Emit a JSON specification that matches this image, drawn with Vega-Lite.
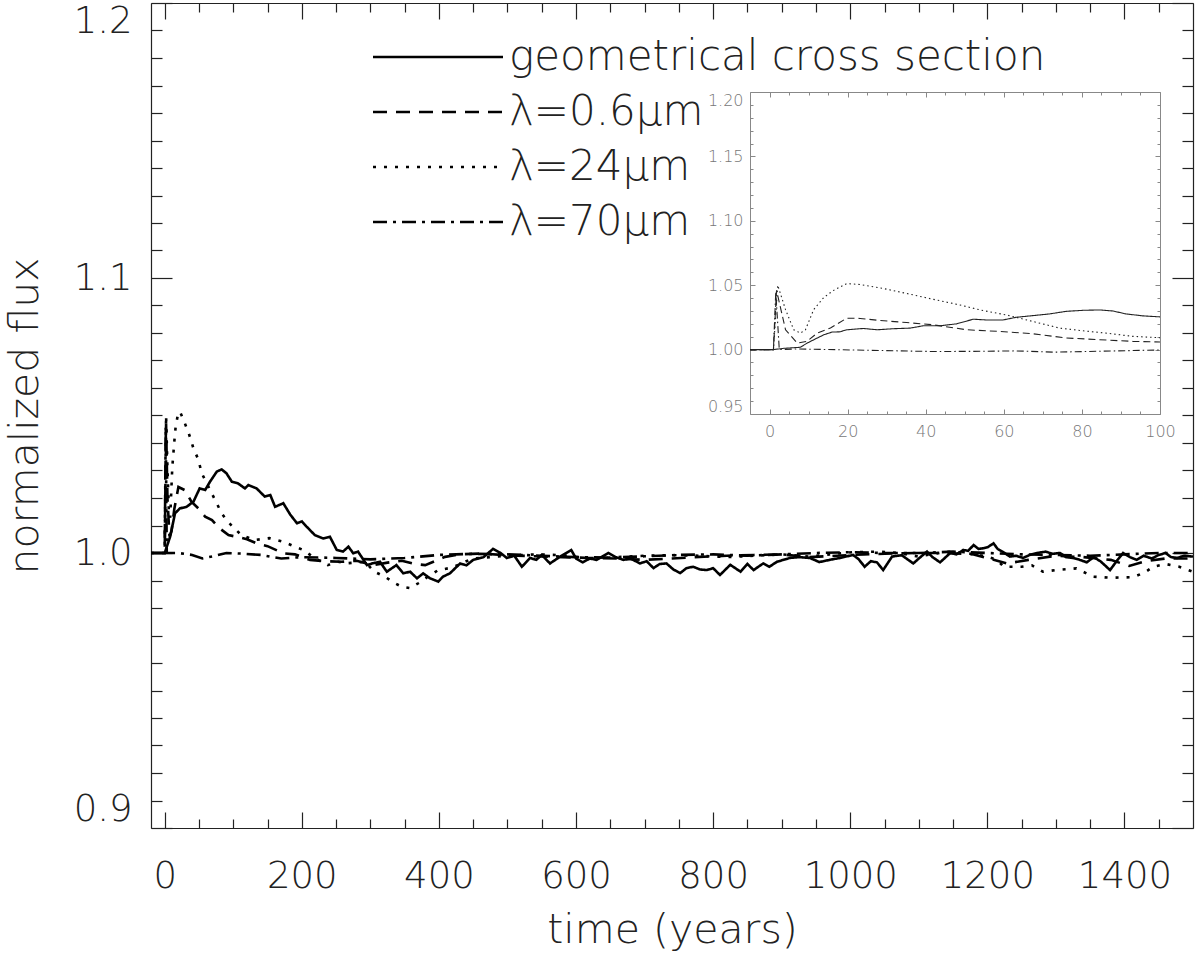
{
  "$schema": "https://vega.github.io/schema/vega-lite/v6.json",
  "width": 1042,
  "height": 825,
  "autosize": "none",
  "padding": {"left": 151, "top": 3, "right": 7, "bottom": 125},
  "background": "white",
  "config": {
    "view": {"stroke": null},
    "font": "DejaVu Sans",
    "axis": {"grid": false, "labelOverlap": false, "labelBound": false, "labelFont": "DejaVu Sans", "titleFont": "DejaVu Sans"},
    "legend": {"labelFont": "DejaVu Sans"}
  },
  "datasets": {
    "main": [
      {"s": "geometrical cross section", "t": -20, "f": 1.0},
      {"s": "geometrical cross section", "t": 0, "f": 1.0},
      {"s": "geometrical cross section", "t": 8, "f": 1.006},
      {"s": "geometrical cross section", "t": 15, "f": 1.0144},
      {"s": "geometrical cross section", "t": 22, "f": 1.0162},
      {"s": "geometrical cross section", "t": 32, "f": 1.0168},
      {"s": "geometrical cross section", "t": 42, "f": 1.0187},
      {"s": "geometrical cross section", "t": 51, "f": 1.0235},
      {"s": "geometrical cross section", "t": 59, "f": 1.0229},
      {"s": "geometrical cross section", "t": 66, "f": 1.0259},
      {"s": "geometrical cross section", "t": 76, "f": 1.0296},
      {"s": "geometrical cross section", "t": 83, "f": 1.0304},
      {"s": "geometrical cross section", "t": 90, "f": 1.029},
      {"s": "geometrical cross section", "t": 98, "f": 1.0259},
      {"s": "geometrical cross section", "t": 107, "f": 1.0253},
      {"s": "geometrical cross section", "t": 117, "f": 1.0235},
      {"s": "geometrical cross section", "t": 122, "f": 1.0247},
      {"s": "geometrical cross section", "t": 134, "f": 1.0235},
      {"s": "geometrical cross section", "t": 146, "f": 1.0205},
      {"s": "geometrical cross section", "t": 154, "f": 1.0211},
      {"s": "geometrical cross section", "t": 161, "f": 1.0168},
      {"s": "geometrical cross section", "t": 173, "f": 1.0181},
      {"s": "geometrical cross section", "t": 183, "f": 1.014},
      {"s": "geometrical cross section", "t": 193, "f": 1.0108},
      {"s": "geometrical cross section", "t": 200, "f": 1.0115},
      {"s": "geometrical cross section", "t": 207, "f": 1.0096},
      {"s": "geometrical cross section", "t": 219, "f": 1.0065},
      {"s": "geometrical cross section", "t": 231, "f": 1.0053},
      {"s": "geometrical cross section", "t": 241, "f": 1.0059},
      {"s": "geometrical cross section", "t": 251, "f": 1.0011},
      {"s": "geometrical cross section", "t": 260, "f": 1.0005},
      {"s": "geometrical cross section", "t": 268, "f": 1.0023},
      {"s": "geometrical cross section", "t": 275, "f": 0.9999},
      {"s": "geometrical cross section", "t": 282, "f": 1.0005},
      {"s": "geometrical cross section", "t": 295, "f": 0.9956},
      {"s": "geometrical cross section", "t": 304, "f": 0.9963},
      {"s": "geometrical cross section", "t": 314, "f": 0.9968},
      {"s": "geometrical cross section", "t": 324, "f": 0.9932},
      {"s": "geometrical cross section", "t": 338, "f": 0.9956},
      {"s": "geometrical cross section", "t": 348, "f": 0.9926},
      {"s": "geometrical cross section", "t": 358, "f": 0.9932},
      {"s": "geometrical cross section", "t": 368, "f": 0.9908},
      {"s": "geometrical cross section", "t": 377, "f": 0.9926},
      {"s": "geometrical cross section", "t": 387, "f": 0.9908},
      {"s": "geometrical cross section", "t": 399, "f": 0.9896},
      {"s": "geometrical cross section", "t": 406, "f": 0.9914},
      {"s": "geometrical cross section", "t": 416, "f": 0.9926},
      {"s": "geometrical cross section", "t": 431, "f": 0.9962},
      {"s": "geometrical cross section", "t": 440, "f": 0.9955},
      {"s": "geometrical cross section", "t": 450, "f": 0.9975},
      {"s": "geometrical cross section", "t": 465, "f": 0.9985},
      {"s": "geometrical cross section", "t": 479, "f": 1.0015},
      {"s": "geometrical cross section", "t": 490, "f": 1.0},
      {"s": "geometrical cross section", "t": 499, "f": 0.9982},
      {"s": "geometrical cross section", "t": 510, "f": 0.999},
      {"s": "geometrical cross section", "t": 521, "f": 0.995},
      {"s": "geometrical cross section", "t": 533, "f": 0.9982},
      {"s": "geometrical cross section", "t": 542, "f": 0.9975},
      {"s": "geometrical cross section", "t": 550, "f": 0.9993},
      {"s": "geometrical cross section", "t": 562, "f": 0.9962},
      {"s": "geometrical cross section", "t": 577, "f": 0.9987},
      {"s": "geometrical cross section", "t": 593, "f": 1.0011},
      {"s": "geometrical cross section", "t": 600, "f": 0.998},
      {"s": "geometrical cross section", "t": 610, "f": 0.9966},
      {"s": "geometrical cross section", "t": 620, "f": 0.998},
      {"s": "geometrical cross section", "t": 630, "f": 0.9975},
      {"s": "geometrical cross section", "t": 647, "f": 1.0},
      {"s": "geometrical cross section", "t": 658, "f": 0.9985},
      {"s": "geometrical cross section", "t": 669, "f": 0.9975},
      {"s": "geometrical cross section", "t": 680, "f": 0.998},
      {"s": "geometrical cross section", "t": 693, "f": 0.9962},
      {"s": "geometrical cross section", "t": 703, "f": 0.997},
      {"s": "geometrical cross section", "t": 713, "f": 0.9945},
      {"s": "geometrical cross section", "t": 722, "f": 0.996},
      {"s": "geometrical cross section", "t": 732, "f": 0.9962},
      {"s": "geometrical cross section", "t": 742, "f": 0.994},
      {"s": "geometrical cross section", "t": 752, "f": 0.9927},
      {"s": "geometrical cross section", "t": 761, "f": 0.9945},
      {"s": "geometrical cross section", "t": 771, "f": 0.995},
      {"s": "geometrical cross section", "t": 781, "f": 0.994},
      {"s": "geometrical cross section", "t": 791, "f": 0.9938},
      {"s": "geometrical cross section", "t": 800, "f": 0.9945},
      {"s": "geometrical cross section", "t": 810, "f": 0.992},
      {"s": "geometrical cross section", "t": 825, "f": 0.9957},
      {"s": "geometrical cross section", "t": 840, "f": 0.9932},
      {"s": "geometrical cross section", "t": 850, "f": 0.996},
      {"s": "geometrical cross section", "t": 859, "f": 0.9938},
      {"s": "geometrical cross section", "t": 873, "f": 0.9962},
      {"s": "geometrical cross section", "t": 882, "f": 0.995},
      {"s": "geometrical cross section", "t": 893, "f": 0.9968},
      {"s": "geometrical cross section", "t": 912, "f": 0.9982},
      {"s": "geometrical cross section", "t": 925, "f": 0.9985},
      {"s": "geometrical cross section", "t": 941, "f": 0.9982},
      {"s": "geometrical cross section", "t": 955, "f": 0.9967},
      {"s": "geometrical cross section", "t": 970, "f": 0.9975},
      {"s": "geometrical cross section", "t": 985, "f": 0.9982},
      {"s": "geometrical cross section", "t": 1004, "f": 0.9993},
      {"s": "geometrical cross section", "t": 1012, "f": 0.9978},
      {"s": "geometrical cross section", "t": 1021, "f": 0.995},
      {"s": "geometrical cross section", "t": 1030, "f": 0.997},
      {"s": "geometrical cross section", "t": 1039, "f": 0.9966},
      {"s": "geometrical cross section", "t": 1048, "f": 0.9938},
      {"s": "geometrical cross section", "t": 1061, "f": 0.9987},
      {"s": "geometrical cross section", "t": 1075, "f": 0.9992},
      {"s": "geometrical cross section", "t": 1092, "f": 0.9962},
      {"s": "geometrical cross section", "t": 1100, "f": 0.998},
      {"s": "geometrical cross section", "t": 1112, "f": 1.0005},
      {"s": "geometrical cross section", "t": 1120, "f": 0.9985},
      {"s": "geometrical cross section", "t": 1131, "f": 0.9966},
      {"s": "geometrical cross section", "t": 1146, "f": 1.0},
      {"s": "geometrical cross section", "t": 1155, "f": 0.9995},
      {"s": "geometrical cross section", "t": 1165, "f": 1.0011},
      {"s": "geometrical cross section", "t": 1172, "f": 1.0008},
      {"s": "geometrical cross section", "t": 1180, "f": 1.0029},
      {"s": "geometrical cross section", "t": 1187, "f": 1.0015},
      {"s": "geometrical cross section", "t": 1194, "f": 1.0017},
      {"s": "geometrical cross section", "t": 1201, "f": 1.0022},
      {"s": "geometrical cross section", "t": 1209, "f": 1.0035},
      {"s": "geometrical cross section", "t": 1215, "f": 1.0015},
      {"s": "geometrical cross section", "t": 1222, "f": 1.0005},
      {"s": "geometrical cross section", "t": 1233, "f": 0.9987},
      {"s": "geometrical cross section", "t": 1242, "f": 0.999},
      {"s": "geometrical cross section", "t": 1252, "f": 0.9982},
      {"s": "geometrical cross section", "t": 1262, "f": 0.9993},
      {"s": "geometrical cross section", "t": 1273, "f": 1.0},
      {"s": "geometrical cross section", "t": 1285, "f": 1.0005},
      {"s": "geometrical cross section", "t": 1295, "f": 0.9997},
      {"s": "geometrical cross section", "t": 1306, "f": 1.0},
      {"s": "geometrical cross section", "t": 1315, "f": 0.9985},
      {"s": "geometrical cross section", "t": 1325, "f": 0.9982},
      {"s": "geometrical cross section", "t": 1335, "f": 0.9975},
      {"s": "geometrical cross section", "t": 1345, "f": 0.9966},
      {"s": "geometrical cross section", "t": 1355, "f": 0.9985},
      {"s": "geometrical cross section", "t": 1365, "f": 0.997},
      {"s": "geometrical cross section", "t": 1379, "f": 0.9938},
      {"s": "geometrical cross section", "t": 1390, "f": 0.9975},
      {"s": "geometrical cross section", "t": 1398, "f": 1.0},
      {"s": "geometrical cross section", "t": 1408, "f": 0.9985},
      {"s": "geometrical cross section", "t": 1418, "f": 0.9975},
      {"s": "geometrical cross section", "t": 1428, "f": 0.999},
      {"s": "geometrical cross section", "t": 1440, "f": 0.998},
      {"s": "geometrical cross section", "t": 1450, "f": 0.9993},
      {"s": "geometrical cross section", "t": 1460, "f": 1.0},
      {"s": "geometrical cross section", "t": 1468, "f": 0.9985},
      {"s": "geometrical cross section", "t": 1477, "f": 0.9982},
      {"s": "geometrical cross section", "t": 1487, "f": 0.999},
      {"s": "geometrical cross section", "t": 1500, "f": 0.9987},

      {"s": "λ=0.6μm", "t": -20, "f": 1.0},
      {"s": "λ=0.6μm", "t": 0, "f": 1.0},
      {"s": "λ=0.6μm", "t": 2, "f": 1.047},
      {"s": "λ=0.6μm", "t": 4, "f": 1.02},
      {"s": "λ=0.6μm", "t": 7, "f": 1.006},
      {"s": "λ=0.6μm", "t": 10, "f": 1.008},
      {"s": "λ=0.6μm", "t": 14, "f": 1.016},
      {"s": "λ=0.6μm", "t": 20, "f": 1.024},
      {"s": "λ=0.6μm", "t": 29, "f": 1.0229},
      {"s": "λ=0.6μm", "t": 39, "f": 1.0187},
      {"s": "λ=0.6μm", "t": 50, "f": 1.016},
      {"s": "λ=0.6μm", "t": 59, "f": 1.0132},
      {"s": "λ=0.6μm", "t": 69, "f": 1.012},
      {"s": "λ=0.6μm", "t": 80, "f": 1.009},
      {"s": "λ=0.6μm", "t": 93, "f": 1.0065},
      {"s": "λ=0.6μm", "t": 105, "f": 1.0059},
      {"s": "λ=0.6μm", "t": 120, "f": 1.005},
      {"s": "λ=0.6μm", "t": 134, "f": 1.0035},
      {"s": "λ=0.6μm", "t": 150, "f": 1.0025},
      {"s": "λ=0.6μm", "t": 173, "f": 0.9999},
      {"s": "λ=0.6μm", "t": 190, "f": 0.9995},
      {"s": "λ=0.6μm", "t": 212, "f": 0.9975},
      {"s": "λ=0.6μm", "t": 235, "f": 0.997},
      {"s": "λ=0.6μm", "t": 258, "f": 0.9968},
      {"s": "λ=0.6μm", "t": 280, "f": 0.9972},
      {"s": "λ=0.6μm", "t": 304, "f": 0.9956},
      {"s": "λ=0.6μm", "t": 325, "f": 0.9965},
      {"s": "λ=0.6μm", "t": 346, "f": 0.9972},
      {"s": "λ=0.6μm", "t": 365, "f": 0.996},
      {"s": "λ=0.6μm", "t": 380, "f": 0.9956},
      {"s": "λ=0.6μm", "t": 409, "f": 0.9986},
      {"s": "λ=0.6μm", "t": 430, "f": 0.9995},
      {"s": "λ=0.6μm", "t": 460, "f": 0.9998},
      {"s": "λ=0.6μm", "t": 500, "f": 0.9992},
      {"s": "λ=0.6μm", "t": 540, "f": 0.9988},
      {"s": "λ=0.6μm", "t": 580, "f": 0.9985},
      {"s": "λ=0.6μm", "t": 620, "f": 0.9982},
      {"s": "λ=0.6μm", "t": 660, "f": 0.998},
      {"s": "λ=0.6μm", "t": 700, "f": 0.9975},
      {"s": "λ=0.6μm", "t": 740, "f": 0.998},
      {"s": "λ=0.6μm", "t": 780, "f": 0.9986},
      {"s": "λ=0.6μm", "t": 820, "f": 0.999},
      {"s": "λ=0.6μm", "t": 860, "f": 0.9993},
      {"s": "λ=0.6μm", "t": 900, "f": 0.9995},
      {"s": "λ=0.6μm", "t": 940, "f": 0.9985},
      {"s": "λ=0.6μm", "t": 980, "f": 0.999},
      {"s": "λ=0.6μm", "t": 1020, "f": 0.9995},
      {"s": "λ=0.6μm", "t": 1060, "f": 0.9998},
      {"s": "λ=0.6μm", "t": 1100, "f": 1.0},
      {"s": "λ=0.6μm", "t": 1140, "f": 1.0},
      {"s": "λ=0.6μm", "t": 1180, "f": 0.9995},
      {"s": "λ=0.6μm", "t": 1229, "f": 0.9962},
      {"s": "λ=0.6μm", "t": 1260, "f": 0.9975},
      {"s": "λ=0.6μm", "t": 1300, "f": 0.999},
      {"s": "λ=0.6μm", "t": 1340, "f": 0.9985},
      {"s": "λ=0.6μm", "t": 1380, "f": 0.9975},
      {"s": "λ=0.6μm", "t": 1407, "f": 0.9953},
      {"s": "λ=0.6μm", "t": 1430, "f": 0.997},
      {"s": "λ=0.6μm", "t": 1460, "f": 0.998},
      {"s": "λ=0.6μm", "t": 1500, "f": 0.998},

      {"s": "λ=24μm", "t": -20, "f": 1.0},
      {"s": "λ=24μm", "t": 0, "f": 1.0},
      {"s": "λ=24μm", "t": 2, "f": 1.05},
      {"s": "λ=24μm", "t": 4, "f": 1.031},
      {"s": "λ=24μm", "t": 6, "f": 1.0154},
      {"s": "λ=24μm", "t": 8, "f": 1.0128},
      {"s": "λ=24μm", "t": 11, "f": 1.031},
      {"s": "λ=24μm", "t": 14, "f": 1.0405},
      {"s": "λ=24μm", "t": 16, "f": 1.046},
      {"s": "λ=24μm", "t": 20, "f": 1.0513},
      {"s": "λ=24μm", "t": 23, "f": 1.051},
      {"s": "λ=24μm", "t": 29, "f": 1.0474},
      {"s": "λ=24μm", "t": 35, "f": 1.0436},
      {"s": "λ=24μm", "t": 42, "f": 1.038},
      {"s": "λ=24μm", "t": 49, "f": 1.034},
      {"s": "λ=24μm", "t": 54, "f": 1.029},
      {"s": "λ=24μm", "t": 60, "f": 1.026},
      {"s": "λ=24μm", "t": 66, "f": 1.023},
      {"s": "λ=24μm", "t": 76, "f": 1.018},
      {"s": "λ=24μm", "t": 83, "f": 1.0145},
      {"s": "λ=24μm", "t": 90, "f": 1.012},
      {"s": "λ=24μm", "t": 99, "f": 1.0096},
      {"s": "λ=24μm", "t": 112, "f": 1.0065},
      {"s": "λ=24μm", "t": 131, "f": 1.0047},
      {"s": "λ=24μm", "t": 153, "f": 1.0054},
      {"s": "λ=24μm", "t": 173, "f": 1.0041},
      {"s": "λ=24μm", "t": 190, "f": 1.0023},
      {"s": "λ=24μm", "t": 202, "f": 1.0011},
      {"s": "λ=24μm", "t": 219, "f": 0.9981},
      {"s": "λ=24μm", "t": 238, "f": 0.9956},
      {"s": "λ=24μm", "t": 253, "f": 0.9968},
      {"s": "λ=24μm", "t": 267, "f": 0.9963},
      {"s": "λ=24μm", "t": 292, "f": 0.9968},
      {"s": "λ=24μm", "t": 306, "f": 0.9932},
      {"s": "λ=24μm", "t": 321, "f": 0.9914},
      {"s": "λ=24μm", "t": 336, "f": 0.989},
      {"s": "λ=24μm", "t": 346, "f": 0.9877},
      {"s": "λ=24μm", "t": 358, "f": 0.9872},
      {"s": "λ=24μm", "t": 370, "f": 0.989},
      {"s": "λ=24μm", "t": 384, "f": 0.9914},
      {"s": "λ=24μm", "t": 399, "f": 0.9938},
      {"s": "λ=24μm", "t": 413, "f": 0.9944},
      {"s": "λ=24μm", "t": 428, "f": 0.9956},
      {"s": "λ=24μm", "t": 438, "f": 0.9968},
      {"s": "λ=24μm", "t": 450, "f": 0.998},
      {"s": "λ=24μm", "t": 475, "f": 0.9985},
      {"s": "λ=24μm", "t": 500, "f": 0.999},
      {"s": "λ=24μm", "t": 540, "f": 0.9995},
      {"s": "λ=24μm", "t": 580, "f": 0.9992},
      {"s": "λ=24μm", "t": 620, "f": 0.998},
      {"s": "λ=24μm", "t": 660, "f": 0.9985},
      {"s": "λ=24μm", "t": 700, "f": 0.999},
      {"s": "λ=24μm", "t": 740, "f": 0.9992},
      {"s": "λ=24μm", "t": 780, "f": 0.999},
      {"s": "λ=24μm", "t": 820, "f": 0.9985},
      {"s": "λ=24μm", "t": 860, "f": 0.999},
      {"s": "λ=24μm", "t": 900, "f": 0.9995},
      {"s": "λ=24μm", "t": 941, "f": 0.9987},
      {"s": "λ=24μm", "t": 970, "f": 0.9995},
      {"s": "λ=24μm", "t": 1004, "f": 1.0003},
      {"s": "λ=24μm", "t": 1040, "f": 1.0005},
      {"s": "λ=24μm", "t": 1070, "f": 1.0},
      {"s": "λ=24μm", "t": 1100, "f": 0.9987},
      {"s": "λ=24μm", "t": 1140, "f": 1.0005},
      {"s": "λ=24μm", "t": 1170, "f": 1.0},
      {"s": "λ=24μm", "t": 1200, "f": 0.9987},
      {"s": "λ=24μm", "t": 1214, "f": 0.9975},
      {"s": "λ=24μm", "t": 1224, "f": 0.995},
      {"s": "λ=24μm", "t": 1250, "f": 0.995},
      {"s": "λ=24μm", "t": 1265, "f": 0.9955},
      {"s": "λ=24μm", "t": 1281, "f": 0.9932},
      {"s": "λ=24μm", "t": 1300, "f": 0.9938},
      {"s": "λ=24μm", "t": 1330, "f": 0.9944},
      {"s": "λ=24μm", "t": 1354, "f": 0.9914},
      {"s": "λ=24μm", "t": 1380, "f": 0.991},
      {"s": "λ=24μm", "t": 1413, "f": 0.9912},
      {"s": "λ=24μm", "t": 1430, "f": 0.993},
      {"s": "λ=24μm", "t": 1442, "f": 0.995},
      {"s": "λ=24μm", "t": 1460, "f": 0.996},
      {"s": "λ=24μm", "t": 1480, "f": 0.995},
      {"s": "λ=24μm", "t": 1500, "f": 0.9932},

      {"s": "λ=70μm", "t": -20, "f": 1.0},
      {"s": "λ=70μm", "t": 0, "f": 1.0},
      {"s": "λ=70μm", "t": 1.5, "f": 1.046},
      {"s": "λ=70μm", "t": 3, "f": 1.0},
      {"s": "λ=70μm", "t": 20, "f": 1.0},
      {"s": "λ=70μm", "t": 40, "f": 0.9993},
      {"s": "λ=70μm", "t": 55, "f": 0.998},
      {"s": "λ=70μm", "t": 70, "f": 0.9988},
      {"s": "λ=70μm", "t": 90, "f": 1.0},
      {"s": "λ=70μm", "t": 110, "f": 0.9998},
      {"s": "λ=70μm", "t": 140, "f": 0.9993},
      {"s": "λ=70μm", "t": 170, "f": 0.998},
      {"s": "λ=70μm", "t": 200, "f": 0.9985},
      {"s": "λ=70μm", "t": 250, "f": 0.9982},
      {"s": "λ=70μm", "t": 300, "f": 0.9977},
      {"s": "λ=70μm", "t": 350, "f": 0.9982},
      {"s": "λ=70μm", "t": 400, "f": 0.9993},
      {"s": "λ=70μm", "t": 450, "f": 0.9997},
      {"s": "λ=70μm", "t": 500, "f": 0.9995},
      {"s": "λ=70μm", "t": 550, "f": 0.999},
      {"s": "λ=70μm", "t": 600, "f": 0.9985},
      {"s": "λ=70μm", "t": 650, "f": 0.9983},
      {"s": "λ=70μm", "t": 700, "f": 0.9988},
      {"s": "λ=70μm", "t": 750, "f": 0.9993},
      {"s": "λ=70μm", "t": 800, "f": 0.9995},
      {"s": "λ=70μm", "t": 850, "f": 0.999},
      {"s": "λ=70μm", "t": 900, "f": 0.9995},
      {"s": "λ=70μm", "t": 950, "f": 1.0},
      {"s": "λ=70μm", "t": 1000, "f": 1.0003},
      {"s": "λ=70μm", "t": 1050, "f": 1.0},
      {"s": "λ=70μm", "t": 1100, "f": 1.0},
      {"s": "λ=70μm", "t": 1150, "f": 1.0005},
      {"s": "λ=70μm", "t": 1200, "f": 1.0},
      {"s": "λ=70μm", "t": 1250, "f": 0.9995},
      {"s": "λ=70μm", "t": 1300, "f": 0.9993},
      {"s": "λ=70μm", "t": 1350, "f": 0.999},
      {"s": "λ=70μm", "t": 1400, "f": 0.9995},
      {"s": "λ=70μm", "t": 1450, "f": 1.0},
      {"s": "λ=70μm", "t": 1500, "f": 1.0}
    ],
    "inset": [
      {"s": "geometrical cross section", "t": -5, "f": 1.0},
      {"s": "geometrical cross section", "t": 1, "f": 1.0},
      {"s": "geometrical cross section", "t": 3.7, "f": 1.001},
      {"s": "geometrical cross section", "t": 7.9, "f": 1.0018},
      {"s": "geometrical cross section", "t": 9.6, "f": 1.005},
      {"s": "geometrical cross section", "t": 11.7, "f": 1.0082},
      {"s": "geometrical cross section", "t": 13.9, "f": 1.0115},
      {"s": "geometrical cross section", "t": 16, "f": 1.0136},
      {"s": "geometrical cross section", "t": 18, "f": 1.0138},
      {"s": "geometrical cross section", "t": 19.8, "f": 1.0154},
      {"s": "geometrical cross section", "t": 24, "f": 1.0164},
      {"s": "geometrical cross section", "t": 27.5, "f": 1.0154},
      {"s": "geometrical cross section", "t": 31.7, "f": 1.0162},
      {"s": "geometrical cross section", "t": 36, "f": 1.0167},
      {"s": "geometrical cross section", "t": 39.4, "f": 1.0185},
      {"s": "geometrical cross section", "t": 43.7, "f": 1.0185},
      {"s": "geometrical cross section", "t": 47.9, "f": 1.02},
      {"s": "geometrical cross section", "t": 52.2, "f": 1.0236},
      {"s": "geometrical cross section", "t": 55.6, "f": 1.023},
      {"s": "geometrical cross section", "t": 59.8, "f": 1.023},
      {"s": "geometrical cross section", "t": 63.2, "f": 1.0251},
      {"s": "geometrical cross section", "t": 67.5, "f": 1.0264},
      {"s": "geometrical cross section", "t": 71.7, "f": 1.0277},
      {"s": "geometrical cross section", "t": 76, "f": 1.0297},
      {"s": "geometrical cross section", "t": 80.3, "f": 1.0305},
      {"s": "geometrical cross section", "t": 84.5, "f": 1.0308},
      {"s": "geometrical cross section", "t": 87.9, "f": 1.03},
      {"s": "geometrical cross section", "t": 91.3, "f": 1.0277},
      {"s": "geometrical cross section", "t": 95.6, "f": 1.0262},
      {"s": "geometrical cross section", "t": 100, "f": 1.0254},

      {"s": "λ=0.6μm", "t": -5, "f": 1.0},
      {"s": "λ=0.6μm", "t": 1, "f": 1.0},
      {"s": "λ=0.6μm", "t": 1.8, "f": 1.046},
      {"s": "λ=0.6μm", "t": 4.1, "f": 1.0154},
      {"s": "λ=0.6μm", "t": 7.1, "f": 1.005},
      {"s": "λ=0.6μm", "t": 9.6, "f": 1.0064},
      {"s": "λ=0.6μm", "t": 12.2, "f": 1.0128},
      {"s": "λ=0.6μm", "t": 15.6, "f": 1.0167},
      {"s": "λ=0.6μm", "t": 19.8, "f": 1.0244},
      {"s": "λ=0.6μm", "t": 23.2, "f": 1.0242},
      {"s": "λ=0.6μm", "t": 28.3, "f": 1.0226},
      {"s": "λ=0.6μm", "t": 35.1, "f": 1.021},
      {"s": "λ=0.6μm", "t": 42, "f": 1.0192},
      {"s": "λ=0.6μm", "t": 50.5, "f": 1.0154},
      {"s": "λ=0.6μm", "t": 59, "f": 1.0141},
      {"s": "λ=0.6μm", "t": 67.5, "f": 1.0123},
      {"s": "λ=0.6μm", "t": 76, "f": 1.009},
      {"s": "λ=0.6μm", "t": 84.5, "f": 1.0077},
      {"s": "λ=0.6μm", "t": 93, "f": 1.0064},
      {"s": "λ=0.6μm", "t": 100, "f": 1.0059},

      {"s": "λ=24μm", "t": -5, "f": 1.0},
      {"s": "λ=24μm", "t": 1, "f": 1.0},
      {"s": "λ=24μm", "t": 2.1, "f": 1.05},
      {"s": "λ=24μm", "t": 4.1, "f": 1.031},
      {"s": "λ=24μm", "t": 6.2, "f": 1.0154},
      {"s": "λ=24μm", "t": 7.9, "f": 1.0128},
      {"s": "λ=24μm", "t": 9.2, "f": 1.0154},
      {"s": "λ=24μm", "t": 11.3, "f": 1.031},
      {"s": "λ=24μm", "t": 13.9, "f": 1.0405},
      {"s": "λ=24μm", "t": 16.4, "f": 1.046},
      {"s": "λ=24μm", "t": 19.8, "f": 1.0513},
      {"s": "λ=24μm", "t": 23.2, "f": 1.0505},
      {"s": "λ=24μm", "t": 29.2, "f": 1.0474},
      {"s": "λ=24μm", "t": 35.1, "f": 1.0436},
      {"s": "λ=24μm", "t": 42, "f": 1.039},
      {"s": "λ=24μm", "t": 48.8, "f": 1.0346},
      {"s": "λ=24μm", "t": 54.7, "f": 1.0303},
      {"s": "λ=24μm", "t": 60.7, "f": 1.0269},
      {"s": "λ=24μm", "t": 67.5, "f": 1.0218},
      {"s": "λ=24μm", "t": 74.3, "f": 1.0167},
      {"s": "λ=24μm", "t": 80.3, "f": 1.0146},
      {"s": "λ=24μm", "t": 86.2, "f": 1.0128},
      {"s": "λ=24μm", "t": 93, "f": 1.0103},
      {"s": "λ=24μm", "t": 100, "f": 1.0092},

      {"s": "λ=70μm", "t": -5, "f": 1.0},
      {"s": "λ=70μm", "t": 1, "f": 1.0},
      {"s": "λ=70μm", "t": 1.6, "f": 1.045},
      {"s": "λ=70μm", "t": 2.5, "f": 1.0},
      {"s": "λ=70μm", "t": 7, "f": 1.0005},
      {"s": "λ=70μm", "t": 25, "f": 0.9995},
      {"s": "λ=70μm", "t": 42, "f": 0.9985},
      {"s": "λ=70μm", "t": 55, "f": 0.9987},
      {"s": "λ=70μm", "t": 63, "f": 0.999},
      {"s": "λ=70μm", "t": 73, "f": 0.998},
      {"s": "λ=70μm", "t": 84, "f": 0.9987},
      {"s": "λ=70μm", "t": 100, "f": 0.9997}
    ]
  },
  "layer": [
    {
      "data": {"name": "main"},
      "mark": {"type": "line", "color": "black", "strokeWidth": 2.6, "clip": true},
      "encoding": {
        "x": {
          "field": "t", "type": "quantitative",
          "scale": {"domain": [-20, 1500], "nice": false, "zero": false},
          "axis": {
            "orient": "bottom",
            "values": [0, 50, 100, 150, 200, 250, 300, 350, 400, 450, 500, 550, 600, 650, 700, 750, 800, 850, 900, 950, 1000, 1050, 1100, 1150, 1200, 1250, 1300, 1350, 1400, 1450],
            "format": "d",
            "labelExpr": "datum.value % 200 === 0 ? datum.label : ''",
            "tickSize": {"condition": {"test": "datum.value % 200 === 0", "value": -16}, "value": -9},
            "tickColor": "#222", "tickWidth": 1.2,
            "domainColor": "#222", "domainWidth": 1.2,
            "labelFontSize": 37, "labelFontWeight": 200, "labelColor": "#222",
            "labelPadding": 46,
            "labelFlush": false,
            "title": "time (years)",
            "titleFontSize": 41, "titleFontWeight": 200, "titleColor": "#222",
            "titlePadding": 9
          }
        },
        "y": {
          "field": "f", "type": "quantitative",
          "scale": {"domain": [0.9, 1.2], "nice": false, "zero": false},
          "axis": {
            "orient": "left",
            "values": [0.9, 0.91, 0.92, 0.93, 0.94, 0.95, 0.96, 0.97, 0.98, 0.99, 1.0, 1.01, 1.02, 1.03, 1.04, 1.05, 1.06, 1.07, 1.08, 1.09, 1.1, 1.11, 1.12, 1.13, 1.14, 1.15, 1.16, 1.17, 1.18, 1.19, 1.2],
            "format": ".1f",
            "labelExpr": "abs(datum.value * 10 - round(datum.value * 10)) < 0.001 ? datum.label : ''",
            "tickSize": {"condition": {"test": "abs(datum.value * 10 - round(datum.value * 10)) < 0.001", "value": -21}, "value": -11},
            "tickColor": "#222", "tickWidth": 1.2,
            "domainColor": "#222", "domainWidth": 1.2,
            "labelFontSize": 37, "labelFontWeight": 200, "labelColor": "#222",
            "labelPadding": 40,
            "labelFlush": true,
            "title": "normalized flux",
            "titleFontSize": 41, "titleFontWeight": 200, "titleColor": "#222",
            "titlePadding": 27
          }
        },
        "strokeDash": {
          "field": "s", "type": "nominal",
          "scale": {
            "domain": ["geometrical cross section", "λ=0.6μm", "λ=24μm", "λ=70μm"],
            "range": [[1, 0], [14, 9], [3, 8], [14, 6, 3, 6]]
          },
          "legend": {
            "orient": "none", "legendX": 266, "legendY": 33,
            "title": null,
            "symbolType": "M-6.5,0H6.5",
            "symbolSize": 400,
            "symbolStrokeWidth": 2.6,
            "symbolStrokeColor": "black",
            "labelOffset": 50,
            "labelFontSize": 42, "labelFontWeight": 200, "labelColor": "#222",
            "labelLimit": 0,
            "rowPadding": 13
          }
        }
      }
    },
    {
      "data": {"name": "main"},
      "mark": {"type": "point", "opacity": 0},
      "encoding": {
        "x": {
          "field": "t", "type": "quantitative",
          "scale": {"domain": [-20, 1500], "nice": false, "zero": false},
          "axis": {
            "orient": "top",
            "values": [0, 50, 100, 150, 200, 250, 300, 350, 400, 450, 500, 550, 600, 650, 700, 750, 800, 850, 900, 950, 1000, 1050, 1100, 1150, 1200, 1250, 1300, 1350, 1400, 1450],
            "labels": false,
            "tickSize": {"condition": {"test": "datum.value % 200 === 0", "value": -16}, "value": -9},
            "tickColor": "#222", "tickWidth": 1.2,
            "domainColor": "#222", "domainWidth": 1.2,
            "title": null
          }
        },
        "y": {
          "field": "f", "type": "quantitative",
          "scale": {"domain": [0.9, 1.2], "nice": false, "zero": false},
          "axis": {
            "orient": "right",
            "values": [0.9, 0.91, 0.92, 0.93, 0.94, 0.95, 0.96, 0.97, 0.98, 0.99, 1.0, 1.01, 1.02, 1.03, 1.04, 1.05, 1.06, 1.07, 1.08, 1.09, 1.1, 1.11, 1.12, 1.13, 1.14, 1.15, 1.16, 1.17, 1.18, 1.19, 1.2],
            "labels": false,
            "tickSize": {"condition": {"test": "abs(datum.value * 10 - round(datum.value * 10)) < 0.001", "value": -21}, "value": -11},
            "tickColor": "#222", "tickWidth": 1.2,
            "domainColor": "#222", "domainWidth": 1.2,
            "title": null
          }
        }
      }
    },
    {
      "data": {"name": "inset"},
      "mark": {"type": "line", "color": "#222", "strokeWidth": 1.1},
      "encoding": {
        "x": {
          "field": "t", "type": "quantitative",
          "scale": {"domain": [-5, 100], "range": [599, 1009], "nice": false, "zero": false},
          "axis": {
            "orient": "bottom", "offset": -414,
            "values": [0, 5, 10, 15, 20, 25, 30, 35, 40, 45, 50, 55, 60, 65, 70, 75, 80, 85, 90, 95, 100],
            "format": "d",
            "labelExpr": "datum.value % 20 === 0 ? datum.label : ''",
            "tickSize": {"condition": {"test": "datum.value % 20 === 0", "value": -5}, "value": -3},
            "tickColor": "#888", "tickWidth": 1,
            "domainColor": "#888", "domainWidth": 1,
            "labelFontSize": 16, "labelFontWeight": 200, "labelColor": "#777",
            "labelPadding": 14,
            "labelFlush": false,
            "title": null
          }
        },
        "y": {
          "field": "f", "type": "quantitative",
          "scale": {"domain": [0.95, 1.2], "range": [411, 89], "nice": false, "zero": false},
          "axis": {
            "orient": "left", "offset": -599,
            "values": [0.95, 0.96, 0.97, 0.98, 0.99, 1.0, 1.01, 1.02, 1.03, 1.04, 1.05, 1.06, 1.07, 1.08, 1.09, 1.1, 1.11, 1.12, 1.13, 1.14, 1.15, 1.16, 1.17, 1.18, 1.19, 1.2],
            "format": ".2f",
            "labelExpr": "abs(datum.value * 20 - round(datum.value * 20)) < 0.001 ? datum.label : ''",
            "tickSize": {"condition": {"test": "abs(datum.value * 20 - round(datum.value * 20)) < 0.001", "value": -5}, "value": -3},
            "tickColor": "#888", "tickWidth": 1,
            "domainColor": "#888", "domainWidth": 1,
            "labelFontSize": 16, "labelFontWeight": 200, "labelColor": "#777",
            "labelPadding": 12,
            "labelFlush": true,
            "title": null
          }
        },
        "strokeDash": {
          "field": "s", "type": "nominal",
          "scale": {
            "domain": ["geometrical cross section", "λ=0.6μm", "λ=24μm", "λ=70μm"],
            "range": [[1, 0], [7, 4], [1.5, 3], [7, 3, 1.5, 3]]
          },
          "legend": null
        }
      }
    },
    {
      "data": {"name": "inset"},
      "mark": {"type": "point", "opacity": 0},
      "encoding": {
        "x": {
          "field": "t", "type": "quantitative",
          "scale": {"domain": [-5, 100], "range": [599, 1009], "nice": false, "zero": false},
          "axis": {
            "orient": "top", "offset": -89,
            "values": [0, 5, 10, 15, 20, 25, 30, 35, 40, 45, 50, 55, 60, 65, 70, 75, 80, 85, 90, 95, 100],
            "labels": false,
            "tickSize": {"condition": {"test": "datum.value % 20 === 0", "value": -5}, "value": -3},
            "tickColor": "#888", "tickWidth": 1,
            "domainColor": "#888", "domainWidth": 1,
            "title": null
          }
        },
        "y": {
          "field": "f", "type": "quantitative",
          "scale": {"domain": [0.95, 1.2], "range": [411, 89], "nice": false, "zero": false},
          "axis": {
            "orient": "right", "offset": -33,
            "values": [0.95, 0.96, 0.97, 0.98, 0.99, 1.0, 1.01, 1.02, 1.03, 1.04, 1.05, 1.06, 1.07, 1.08, 1.09, 1.1, 1.11, 1.12, 1.13, 1.14, 1.15, 1.16, 1.17, 1.18, 1.19, 1.2],
            "labels": false,
            "tickSize": {"condition": {"test": "abs(datum.value * 20 - round(datum.value * 20)) < 0.001", "value": -5}, "value": -3},
            "tickColor": "#888", "tickWidth": 1,
            "domainColor": "#888", "domainWidth": 1,
            "title": null
          }
        }
      }
    }
  ],
  "resolve": {
    "scale": {"x": "independent", "y": "independent", "strokeDash": "independent"},
    "axis": {"x": "independent", "y": "independent"}
  }
}
